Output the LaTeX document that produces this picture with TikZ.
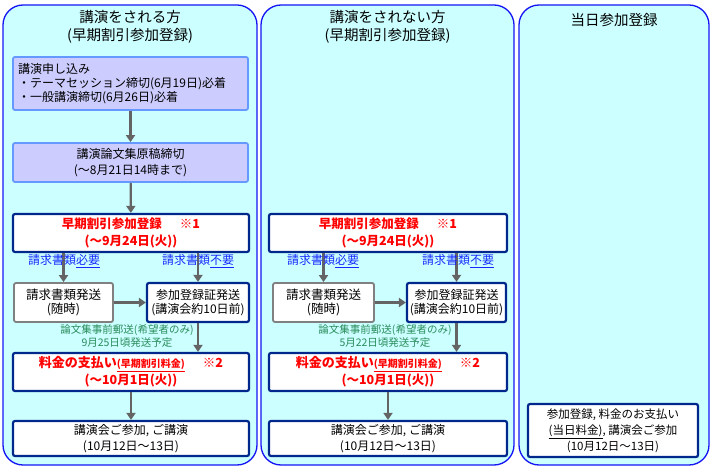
\documentclass[tikz,border=0pt]{standalone}
\usepackage{fontspec}
\setmainfont{Noto Sans CJK JP}
\usetikzlibrary{arrows.meta}
\definecolor{pnlfill}{RGB}{204,255,255}
\definecolor{pnlline}{RGB}{20,20,245}
\definecolor{lavfill}{RGB}{204,204,255}
\definecolor{lavline}{RGB}{102,153,255}
\definecolor{navyline}{RGB}{0,40,140}
\definecolor{flowgray}{RGB}{100,100,100}
\definecolor{notegreen}{RGB}{40,140,90}
\definecolor{reqblue}{RGB}{20,40,255}
\begin{document}
\begin{tikzpicture}[x=1pt, y=-1pt,
  panel/.style={draw=pnlline, fill=pnlfill, line width=1.3pt, rounded corners=20pt, inner sep=0pt},
  ttl/.style={align=center, font=\fontsize{14.5}{17.5}\selectfont},
  lavbox/.style={draw=lavline, fill=lavfill, line width=1.8pt, rounded corners=2pt, inner sep=0pt, align=center, font=\fontsize{12}{15.5}\selectfont},
  regbox/.style={draw=navyline, fill=white, line width=2.2pt, rounded corners=2pt, inner sep=0pt, align=center, font=\fontsize{12}{15}\selectfont},
  docbox/.style={draw=gray, fill=white, line width=1.8pt, rounded corners=2pt, inner sep=0pt, align=center, font=\fontsize{12.5}{14.5}\selectfont},
  redtxt/.style={text=red, font=\fontsize{12.5}{17}\selectfont\bfseries},
  req/.style={text=reqblue, font=\fontsize{12}{14}\selectfont},
  note/.style={text=notegreen, align=center, font=\fontsize{10.5}{13}\selectfont},
  flow/.style={draw=flowgray, line width=2.2pt, -{Triangle[width=9pt,length=7pt]}}]
\useasboundingbox (0,0) rectangle (712,470);
\node[panel, minimum width=254pt, minimum height=460pt] (pnl0) at (130,235){};
\node[panel, minimum width=253pt, minimum height=460pt] (pnl1) at (387.5,235){};
\node[panel, minimum width=190pt, minimum height=460pt] (pnl2) at (614,235){};
\node[ttl] (ttl0) at (130,27){講演をされる方\\(早期割引参加登録)};
\node[ttl] (ttl1) at (387.5,27){講演をされない方\\(早期割引参加登録)};
\node[ttl] (ttl2) at (614,20){当日参加登録};

\node[lavbox, minimum width=235pt, minimum height=53pt, text width=225pt, align=left, font=\fontsize{12}{14}\selectfont] (app0) at (130.5,83.5){講演申し込み\\・テーマセッション締切(6月19日)必着\\・一般講演締切(6月26日)必着};
\node[lavbox, minimum width=235pt, minimum height=39pt] (ms0) at (130.5,162.5){講演論文集原稿締切\\(～8月21日14時まで)};
\node[regbox, redtxt, minimum width=236pt, minimum height=38pt] (reg0) at (131,233){早期割引参加登録\hspace{18pt}※1\\(～9月24日(火))};
\node[docbox, minimum width=99pt, minimum height=39pt] (inv0) at (63.5,302.5){請求書類発送\\(随時)};
\node[regbox, minimum width=102pt, minimum height=39pt, font=\fontsize{12}{14}\selectfont] (cer0) at (198,302.5){参加登録証発送\\(講演会約10日前)};
\node[regbox, redtxt, minimum width=236pt, minimum height=38pt] (pay0) at (131,372){{\fontsize{13}{17}\selectfont 料金の支払い}{\fontsize{10}{12}\selectfont\underline{(早期割引料金)}}\hspace{18pt}※2\\(～10月1日(火))};
\node[regbox, minimum width=236pt, minimum height=35pt, font=\fontsize{12}{16}\selectfont] (att0) at (131,438.5){講演会ご参加, ご講演\\(10月12日～13日)};
\draw[flow](app0) -- (ms0);
\draw[flow](ms0) -- (reg0);
\draw[flow](inv0.north |- reg0.south) -- (inv0.north);
\draw[flow](cer0.north |- reg0.south) -- (cer0.north);
\draw[flow](inv0) -- (cer0);
\draw[flow](cer0.south) -- (cer0.south |- pay0.north);
\draw[flow](pay0) -- (att0);
\node[req] (need0) at (64,261){請求書類\underline{必要}};
\node[req] (noneed0) at (198,261){請求書類\underline{不要}};
\node[note] (post0) at (127,336.5){論文集事前郵送(希望者のみ)\\9月25日頃発送予定};

\node[regbox, redtxt, minimum width=238pt, minimum height=38pt] (reg1) at (388,233){早期割引参加登録\hspace{18pt}※1\\(～9月24日(火))};
\node[docbox, minimum width=101pt, minimum height=39pt] (inv1) at (323.5,302.5){請求書類発送\\(随時)};
\node[regbox, minimum width=99pt, minimum height=39pt, font=\fontsize{12}{14}\selectfont] (cer1) at (456.5,302.5){参加登録証発送\\(講演会約10日前)};
\node[regbox, redtxt, minimum width=238pt, minimum height=38pt] (pay1) at (388,372){{\fontsize{13}{17}\selectfont 料金の支払い}{\fontsize{10}{12}\selectfont\underline{(早期割引料金)}}\hspace{18pt}※2\\(～10月1日(火))};
\node[regbox, minimum width=238pt, minimum height=35pt, font=\fontsize{12}{16}\selectfont] (att1) at (388,438.5){講演会ご参加, ご講演\\(10月12日～13日)};
\draw[flow](inv1.north |- reg1.south) -- (inv1.north);
\draw[flow](cer1.north |- reg1.south) -- (cer1.north);
\draw[flow](inv1) -- (cer1);
\draw[flow](cer1.south) -- (cer1.south |- pay1.north);
\draw[flow](pay1) -- (att1);
\node[req] (need1) at (323,261){請求書類\underline{必要}};
\node[req] (noneed1) at (458,261){請求書類\underline{不要}};
\node[note] (post1) at (385,336.5){論文集事前郵送(希望者のみ)\\5月22日頃発送予定};

\node[regbox, minimum width=170pt, minimum height=53pt, font=\fontsize{11.5}{16}\selectfont] (day0) at (613,430.5){参加登録, 料金のお支払い\\\underline{(当日料金)}, 講演会ご参加\\(10月12日～13日)};
\end{tikzpicture}
\end{document}
